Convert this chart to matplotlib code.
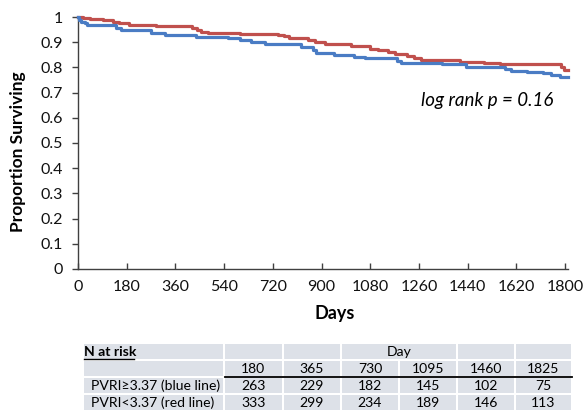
import matplotlib
matplotlib.use("Agg")
import matplotlib.pyplot as plt
from matplotlib.patches import Rectangle

plt.rcParams["font.family"] = ["Lato", "DejaVu Sans"]

# Kaplan-Meier step curves (day, proportion surviving)
blue_days = [0, 5, 12, 25, 35, 140, 160, 268, 320, 435, 555, 600, 640, 690,
             826, 868, 880, 948, 1020, 1060, 1178, 1195, 1345, 1435, 1580,
             1600, 1660, 1720, 1750, 1780, 1811]
blue_surv = [1.0, 0.99, 0.98, 0.975, 0.968, 0.955, 0.948, 0.935, 0.928,
             0.922, 0.915, 0.91, 0.902, 0.892, 0.882, 0.87, 0.856, 0.849,
             0.842, 0.836, 0.825, 0.818, 0.812, 0.802, 0.792, 0.784, 0.78,
             0.776, 0.77, 0.763, 0.763]
red_days = [0, 20, 45, 92, 128, 150, 190, 290, 330, 420, 440, 455, 480, 600,
            740, 760, 780, 850, 875, 912, 1008, 1080, 1110, 1145, 1170, 1215,
            1240, 1268, 1410, 1500, 1560, 1785, 1795, 1811]
red_surv = [1.0, 0.997, 0.993, 0.988, 0.981, 0.976, 0.970, 0.966, 0.963,
            0.958, 0.950, 0.940, 0.936, 0.933, 0.930, 0.924, 0.918, 0.908,
            0.899, 0.893, 0.883, 0.873, 0.868, 0.862, 0.852, 0.846, 0.838,
            0.831, 0.823, 0.818, 0.812, 0.80, 0.79, 0.79]

x_ticks = list(range(0, 1801, 180))
y_ticks = [i / 10 for i in range(11)]
y_tick_labels = ["0", "0.1", "0.2", "0.3", "0.4", "0.5", "0.6", "0.7",
                 "0.8", "0.9", "1"]

# numbers at risk table
risk_days = ["180", "365", "730", "1095", "1460", "1825"]
risk_blue = [263, 229, 182, 145, 102, 75]
risk_red = [333, 299, 234, 189, 146, 113]
row_labels = ["PVRI\u22653.37 (blue line)", "PVRI<3.37 (red line)"]

BLUE = "#4a7cc4"
RED = "#c0504d"
AX = "#404040"

fig = plt.figure(figsize=(5.85, 4.12), dpi=100)
W, H = 585, 412
ax = fig.add_axes([78 / W, (H - 269) / H, (568 - 78) / W, (269 - 17) / H])

ax.step(blue_days, blue_surv, where="post", color=BLUE, lw=2.3, clip_on=False,
        zorder=3)
ax.step(red_days, red_surv, where="post", color=RED, lw=2.3, clip_on=False,
        zorder=2)

ax.set_xlim(0, 1811)
ax.set_ylim(0, 1)
ax.set_xticks(x_ticks)
ax.set_yticks(y_ticks)
ax.set_yticklabels(y_tick_labels)
for s in ["top", "right"]:
    ax.spines[s].set_visible(False)
for s in ["left", "bottom"]:
    ax.spines[s].set_color(AX)
    ax.spines[s].set_linewidth(1.0)
ax.tick_params(colors=AX, labelcolor="#111111", labelsize=11.5, width=1.0)
ax.tick_params(axis="x", direction="in", length=4, pad=8)
ax.tick_params(axis="y", direction="out", length=4, pad=7)
ax.set_xlabel("Days", fontsize=13, fontweight="bold")
ax.xaxis.set_label_coords((335 - 78) / (568 - 78), -(314 - 269) / (269 - 17))
ax.set_ylabel("Proportion Surviving", fontsize=12.5, fontweight="bold")
ax.yaxis.set_label_coords(-(78 - 18) / (568 - 78), (269 - 152) / (269 - 17))
ax.yaxis.label.set_va("center")
ax.xaxis.label.set_va("center")
ax.text(0.97, 0.67, "log rank p = 0.16", transform=ax.transAxes,
        ha="right", va="center", fontsize=13.5, style="italic")

# table drawn in pixel coordinates
tab = fig.add_axes([0, 0, 1, 1])
tab.set_xlim(0, W)
tab.set_ylim(H, 0)
tab.axis("off")

col_edges = [83, 224, 283, 341, 399, 457, 515, 572]
row_edges = [343, 360, 377, 394, 411]
CELL = "#dde1e8"
gap = 1.0


def cell(x0, x1, y0, y1):
    tab.add_patch(Rectangle((x0 + gap, y0 + gap), x1 - x0 - 2 * gap,
                            y1 - y0 - 2 * gap, facecolor=CELL,
                            edgecolor="none"))


# header row: merged "Day" cell over 730 and 1095
header_cols = [(0, 1), (1, 2), (2, 3), (3, 5), (5, 6), (6, 7)]
for a, b in header_cols:
    cell(col_edges[a], col_edges[b], row_edges[0], row_edges[1])
for r in range(1, 4):
    for c in range(7):
        cell(col_edges[c], col_edges[c + 1], row_edges[r], row_edges[r + 1])

fs = 10.1
tab.text(84, (row_edges[0] + row_edges[1]) / 2, "N at risk",
         fontsize=fs, fontweight="bold", ha="left", va="center")
tab.plot([84, 134], [row_edges[1] - 1.5, row_edges[1] - 1.5], color="black",
         lw=1.0)
tab.text((col_edges[3] + col_edges[5]) / 2, (row_edges[0] + row_edges[1]) / 2,
         "Day", fontsize=fs, ha="center", va="center")

for i, d in enumerate(risk_days):
    xc = (col_edges[i + 1] + col_edges[i + 2]) / 2
    tab.text(xc, (row_edges[1] + row_edges[2]) / 2 + 0.5, d, fontsize=fs,
             ha="center", va="center")
    tab.text(xc, (row_edges[2] + row_edges[3]) / 2 + 0.5, str(risk_blue[i]),
             fontsize=fs, ha="center", va="center")
    tab.text(xc, (row_edges[3] + row_edges[4]) / 2 + 0.5, str(risk_red[i]),
             fontsize=fs, ha="center", va="center")
for j, lab in enumerate(row_labels):
    tab.text(91, (row_edges[2 + j] + row_edges[3 + j]) / 2 + 0.5, lab,
             fontsize=fs, ha="left", va="center")

tab.plot([col_edges[1] + 1, col_edges[-1]], [row_edges[2], row_edges[2]],
         color="black", lw=1.3)

fig.savefig("out.png", dpi=100)
